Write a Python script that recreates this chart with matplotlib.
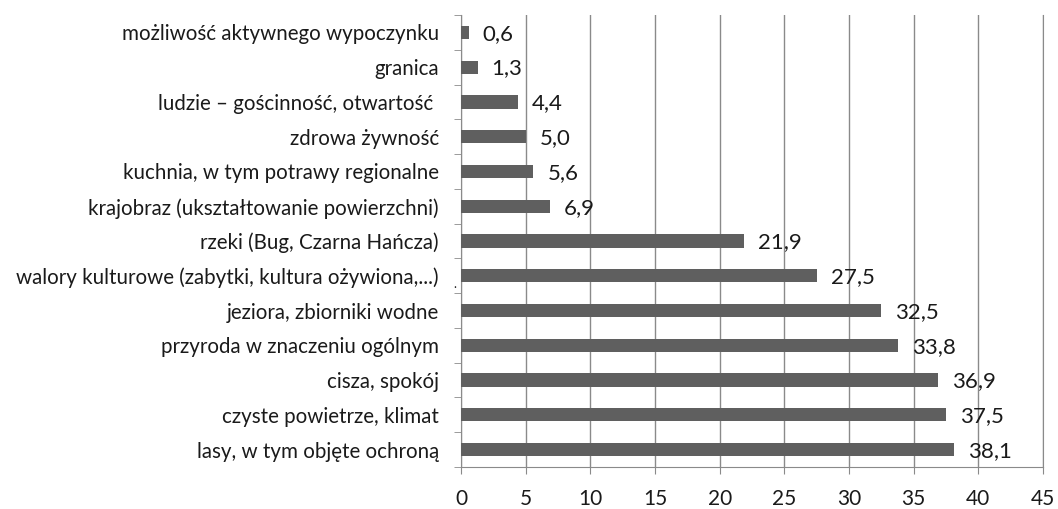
import matplotlib.pyplot as plt
import numpy as np

categories = [
    "lasy, w tym objęte ochroną",
    "czyste powietrze, klimat",
    "cisza, spokój",
    "przyroda w znaczeniu ogólnym",
    "jeziora, zbiorniki wodne",
    "walory kulturowe (zabytki, kultura ożywiona,...)",
    "rzeki (Bug, Czarna Hańcza)",
    "krajobraz (ukształtowanie powierzchni)",
    "kuchnia, w tym potrawy regionalne",
    "zdrowa żywność",
    "ludzie – gościnność, otwartość ",
    "granica",
    "możliwość aktywnego wypoczynku",
]
values = [38.1, 37.5, 36.9, 33.8, 32.5, 27.5, 21.9, 6.9, 5.6, 5.0, 4.4, 1.3, 0.6]
xticks = [0, 5, 10, 15, 20, 25, 30, 35, 40, 45]

plt.rcParams['font.family'] = ['Lato', 'DejaVu Sans']
text_color = "#1a1a1a"
bar_color = "#5f5f5f"
grid_color = "#8a8a8a"

fig = plt.figure(figsize=(10.58, 5.09), dpi=100)
ax = fig.add_axes([461 / 1058, 1 - 467 / 509, (1043 - 461) / 1058, (467 - 15) / 509])

y = np.arange(len(categories))
ax.barh(y, values, height=0.38, color=bar_color, zorder=3)
for yi, v in zip(y, values):
    ax.annotate(f"{v:.1f}".replace(".", ","), (v, yi), xytext=(10, -1), textcoords="offset points",
                va="center", ha="left", fontsize=16, color=text_color)

ax.set_xlim(0, 45)
ax.set_ylim(-0.5, len(categories) - 0.5)
ax.set_xticks(xticks)
ax.set_xticklabels([str(t) for t in xticks], fontsize=15, color=text_color)
ax.set_yticks(y)
ax.set_yticklabels(categories, fontsize=14.8, color=text_color)
ax.set_yticks(np.arange(-0.5, len(categories), 1), minor=True)

ax.tick_params(axis="y", which="major", length=0, pad=16)
ax.tick_params(axis="y", which="minor", length=5, color=grid_color, direction="out")
ax.tick_params(axis="x", length=5, color=grid_color, direction="out", pad=11)

ax.grid(axis="x", color=grid_color, linewidth=1, zorder=0)
ax.spines["top"].set_visible(False)
for side in ("left", "bottom", "right"):
    ax.spines[side].set_color(grid_color)

# stray dot present in the source image
fig.text(455 / 1058, 1 - 288 / 509, ".", fontsize=9, color=text_color, ha="center")

fig.savefig("out.png", dpi=100)
